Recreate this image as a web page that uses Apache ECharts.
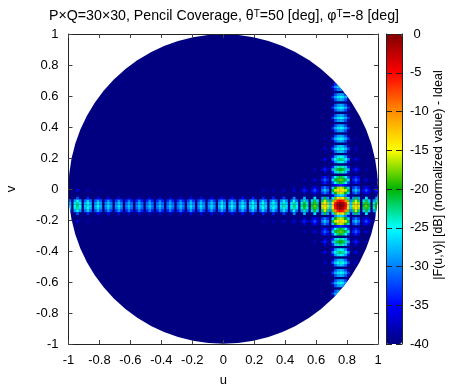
<!DOCTYPE html>
<html><head><meta charset="utf-8">
<style>html,body{margin:0;padding:0;background:#fff}#c{width:449px;height:389px}</style>
<script src="https://cdn.jsdelivr.net/npm/echarts@6/dist/echarts.min.js"></script>
</head><body><div id="c"></div>
<script>
const colorStops = ['#000080','#0000ff','#0080ff','#00ffff','#00b400','#ffff00','#ff8c00','#ff0000','#800000'];
// levels in dB, one array per lobe row; blanks are the -40 dB floor
const cellsPerUnit = 60;
const diskLevel = [[0,0,-40]];
const leftRow0 = [-27,,-25,-22,-25,,-27,-24,-27,,-28,-25,-28,,-29,-26,-29,,-29,-26,-29,,-30,-27,-30,,-30,-27,-30,,-30,-27,-30,,-30,-27,-30,,-30,-27,-30,,-30,-27,-30,,-29,-26,-29,,-29,-26,-29,,-29,-26,-29,,-28,-25,-28,,-28,-25,-28,,-28,-25,-28,,-27,-24,-27,,-27,-24,-27,,-27,-24,-27,,-26,-23,-26];
const leftRow1 = [-28,,-26,-23,-26,,-28,-25,-28,,-29,-26,-29,,-30,-27,-30,,-30,-27,-30,,-31,-28,-31,,-31,-28,-31,,-31,-28,-31,,-31,-28,-31,,-31,-28,-31,,-31,-28,-31,,-30,-27,-30,,-30,-27,-30,,-30,-27,-30,,-29,-26,-29,,-29,-26,-29,,-29,-26,-29,,-28,-25,-28,,-28,-25,-28,,-28,-25,-28,,-27,-24,-27];
const leftRow2 = [-31,,-29,-25,-29,,-31,-27,-31,,-32,-28,-32,,-33,-29,-33,,-33,-29,-33,,-34,-30,-34,,-34,-30,-34,,-34,-30,-34,,-34,-30,-34,,-34,-30,-34,,-34,-30,-34,,-33,-29,-33,,-33,-29,-33,,-33,-29,-33,,-32,-28,-32,,-32,-28,-32,,-32,-28,-32,,-31,-27,-31,,-31,-27,-31,,-31,-27,-31,,-30,-26,-30];
const leftRow3 = [-32,,,,-34,,,,-35,,,,-36,,,,-36,,,,-37,,,,-37,,,,-37,,,,-37,,,,-37,,,,-37,,,,-36,,,,-36,,,,-36,,,,-35,,,,-35,,,,-35,,,,-34,,,,-34,,,,-34,,,,-33];
const leftRow6a = [-36,,,,-38,,,,-39];
const leftRow6b = [-38,,,,-38,,,,-37];
const coreRow0 = [,-25,-22,-25,,-23,-20,-23,,-21,-18,-21,,-16,-13,-16,-26,-13,-5,-1,0,-1,-5,-13,-26,-16,-13,-16,,-21,-18,-21,,-23,-20];
const coreRow1 = [,-26,-23,-26,,-24,-21,-24,,-22,-19,-22,,-17,-14,-17,-27,-14,-6,-2,-1,-2,-6,-14,-27,-17,-14,-17,,-22,-19,-22,,-24,-21];
const coreRow2 = [,-31,-25,-31,,-29,-23,-29,,-27,-21,-27,,-22,-16,-22,-30,-18,-10,-6,-5,-6,-10,-18,-30,-22,-16,-22,,-27,-21,-27,,-29,-23];
const coreRow3 = [,,-30,,,,-28,,,,-26,,,-29,-21,-29,,-26,-18,-14,-13,-14,-18,-26,,-29,-21,-29,,,-26,,,,-28];
const coreRow4 = [-36,-30,-27,-26,-27,-30,-36];
const coreRow5 = [-39,,,,-37,,,-38,-35,-38,,-33,-30,-33,,-27,-20,-17,-16,-17,-20,-27,,-33,-30,-33,,-38,-35,-38,,,-37];
const coreRow6 = [-36,,,-37,-34,-37,,-35,-32,-35,,-30,-27,-30,,-21,-16,-14,-13,-14,-16,-21,,-30,-27,-30,,-35,-32,-35,,-37,-34];
const coreRow8 = [-38,-35,-34,-33,-34,-35,-38];
const coreRow9 = [-37,-34,-37,,-32,-25,-22,-21,-22,-25,-32,,-37,-34,-37];
const coreRow10 = [-38,,,-39,-36,-39,,-34,-31,-34,,-26,-21,-19,-18,-19,-21,-26,,-34,-31,-34,,-39,-36,-39,,,-38];
const coreRow13 = [-37,,,-34,-27,-24,-23,-24,-27,-34,,,-37];
const coreRow14 = [-38,,,-37,-34,-37,,-28,-23,-21,-20,-21,-23,-28,,-37,-34,-37,,,-38];
const coreRow17 = [-36,-29,-26,-25,-26,-29,-36];
const coreRow18 = [-39,-35,-39,,-30,-25,-23,-22,-23,-25,-30,,-39,-35,-39];
const coreRow21 = [-39,,,-38,-31,-28,-27,-28,-31,-38,,,-39];
const coreRow22 = [-37,,,-32,-27,-25,-24,-25,-27,-32,,,-37];
const coreRow25 = [-39,-32,-29,-28,-29,-32,-39];
const coreRow26 = [-38,,,-33,-28,-26,-25,-26,-28,-33,,,-38];
const farRowPeak = [-33,-28,-26,-25,-26,-28,-33];
const farRowSide = [-39,-32,-29,-28,-29,-32,-39];
const topRowPeak = [-34,-29,-27,-26,-27,-29,-34];
const topRowSide = [-39,-33,-30,-29,-30,-33,-39];

const placements = [
  [[53],0,leftRow0],[[52,54],0,leftRow1],[[51,55],0,leftRow2],[[50,56],3,leftRow3],
  [[47,59],3,leftRow6a],[[47,59],75,leftRow6b],
  [[53],85,coreRow0],[[52,54],85,coreRow1],[[51,55],85,coreRow2],[[50,56],85,coreRow3],
  [[49,57],102,coreRow4],[[48,58,46,60],87,coreRow5],[[47,59],87,coreRow6],[[45,61],102,coreRow8],
  [[44,62,42,64],98,coreRow9],[[43,63],91,coreRow10],[[40,66,38,68],99,coreRow13],[[39,67],95,coreRow14],
  [[36,70,34,72],102,coreRow17],[[35,71],98,coreRow18],[[32,74,30,76],99,coreRow21],[[31,75],99,coreRow22],
  [[28,78,26,80],102,coreRow25],[[27,79],99,coreRow26],
  [[23,83,19,87,91,95],102,farRowPeak],[[24,82,22,84,20,86,18,88,90,92,94,96],102,farRowSide],
  [[99],102,topRowPeak],[[98,100],102,topRowSide]
];
const cells = [];
placements.forEach(function(p){
  p[0].forEach(function(row){
    p[2].forEach(function(level,i){
      cells.push([-1+(p[1]+i+0.5)/cellsPerUnit, -1+(row+0.5)/cellsPerUnit, level]);
    });
  });
});

const font = 'Liberation Sans';
const labelStyle = {fontFamily:font,fontSize:13,color:'#000'};
const lineStyle = {color:'#222',width:1};
function axisBase(extra){
  return Object.assign({type:'value',min:-1,max:1,interval:0.2,z:5,splitLine:{show:false},
    axisLine:{show:true,onZero:false,lineStyle:lineStyle},
    axisTick:{show:true,inside:true,length:4,lineStyle:{color:'#444',width:1}},
    axisLabel:Object.assign({show:true,margin:10},labelStyle)},extra);
}
const sup = {fontFamily:font,fontSize:10,color:'#000',verticalAlign:'top',padding:[0,0,5,0]};
const chart = echarts.init(document.getElementById('c'),null,{renderer:'canvas'});
chart.setOption({
  animation:false,
  backgroundColor:'#fff',
  title:{left:224,textAlign:'center',top:9,padding:0,
    text:'P×Q=30×30, Pencil Coverage, θ{s|T}=50 [deg], φ{s|T}=-8 [deg]',
    textStyle:{fontFamily:font,fontSize:14.2,fontWeight:'normal',color:'#000',rich:{s:sup}}},
  grid:[{left:68.5,top:34,width:309.5,height:310,outerBoundsMode:'none'},{left:386,top:34,width:16,height:310,outerBoundsMode:'none'}],
  xAxis:[
    axisBase({gridIndex:0,position:'bottom',name:'u',nameLocation:'middle',nameGap:30,nameTextStyle:labelStyle}),
    axisBase({gridIndex:0,position:'top',axisLabel:{show:false}}),
    {type:'value',gridIndex:1,min:0,max:1,show:false}
  ],
  yAxis:[
    axisBase({gridIndex:0,position:'left',name:'v',nameLocation:'middle',nameGap:51,nameRotate:90,nameTextStyle:labelStyle}),
    axisBase({gridIndex:0,position:'right',axisLabel:{show:false}}),
    axisBase({gridIndex:1,position:'right',min:-40,max:0,interval:5,
      axisTick:{show:true,inside:true,length:6,lineStyle:{color:'#222',width:1}},
      axisLabel:Object.assign({margin:8,align:'left',formatter:function(v){return v===0?' 0':String(v);}},labelStyle)}),
    axisBase({gridIndex:1,position:'left',min:-40,max:0,interval:5,
      axisTick:{show:true,inside:true,length:6,lineStyle:{color:'#222',width:1}},axisLabel:{show:false}})
  ],
  visualMap:{type:'continuous',min:-40,max:0,dimension:2,seriesIndex:[0,1],calculable:false,hoverLink:false,
    left:386,top:34,itemWidth:16,itemHeight:310,padding:0,z:1,inRange:{color:colorStops}},
  graphic:[{type:'text',rotation:Math.PI/2,x:439,y:175,z:10,
    style:{text:'|F(u,v)| [dB] (normalized value) - Ideal',fontFamily:font,fontSize:12.5,fill:'#000',textAlign:'center',textVerticalAlign:'middle'}}],
  series:[
    {type:'custom',name:'disk',coordinateSystem:'cartesian2d',xAxisIndex:0,yAxisIndex:0,silent:true,z:2,clip:false,
      encode:{x:0,y:1},data:diskLevel,
      renderItem:function(params,api){
        const c=api.coord([api.value(0),api.value(1)]);
        const s=api.size([1,1]);
        return {type:'circle',shape:{cx:c[0],cy:c[1],r:s[0]},style:{fill:api.visual('color')}};
      }},
    {type:'custom',name:'pattern',coordinateSystem:'cartesian2d',xAxisIndex:0,yAxisIndex:0,silent:true,z:3,clip:false,
      encode:{x:0,y:1},data:cells,
      renderItem:function(params,api){
        const c=api.coord([api.value(0),api.value(1)]);
        const s=api.size([1/cellsPerUnit,1/cellsPerUnit]);
        const o=api.coord([0,0]);
        const r=api.size([1,1])[0];
        const color=api.visual('color');
        return {type:'rect',shape:{x:c[0]-s[0]/2-0.1,y:c[1]-s[1]/2-0.1,width:s[0]+0.2,height:s[1]+0.2},
          style:{fill:color},
          clipPath:{type:'circle',shape:{cx:o[0],cy:o[1],r:r}}};
      }}
  ]
});
</script></body></html>
